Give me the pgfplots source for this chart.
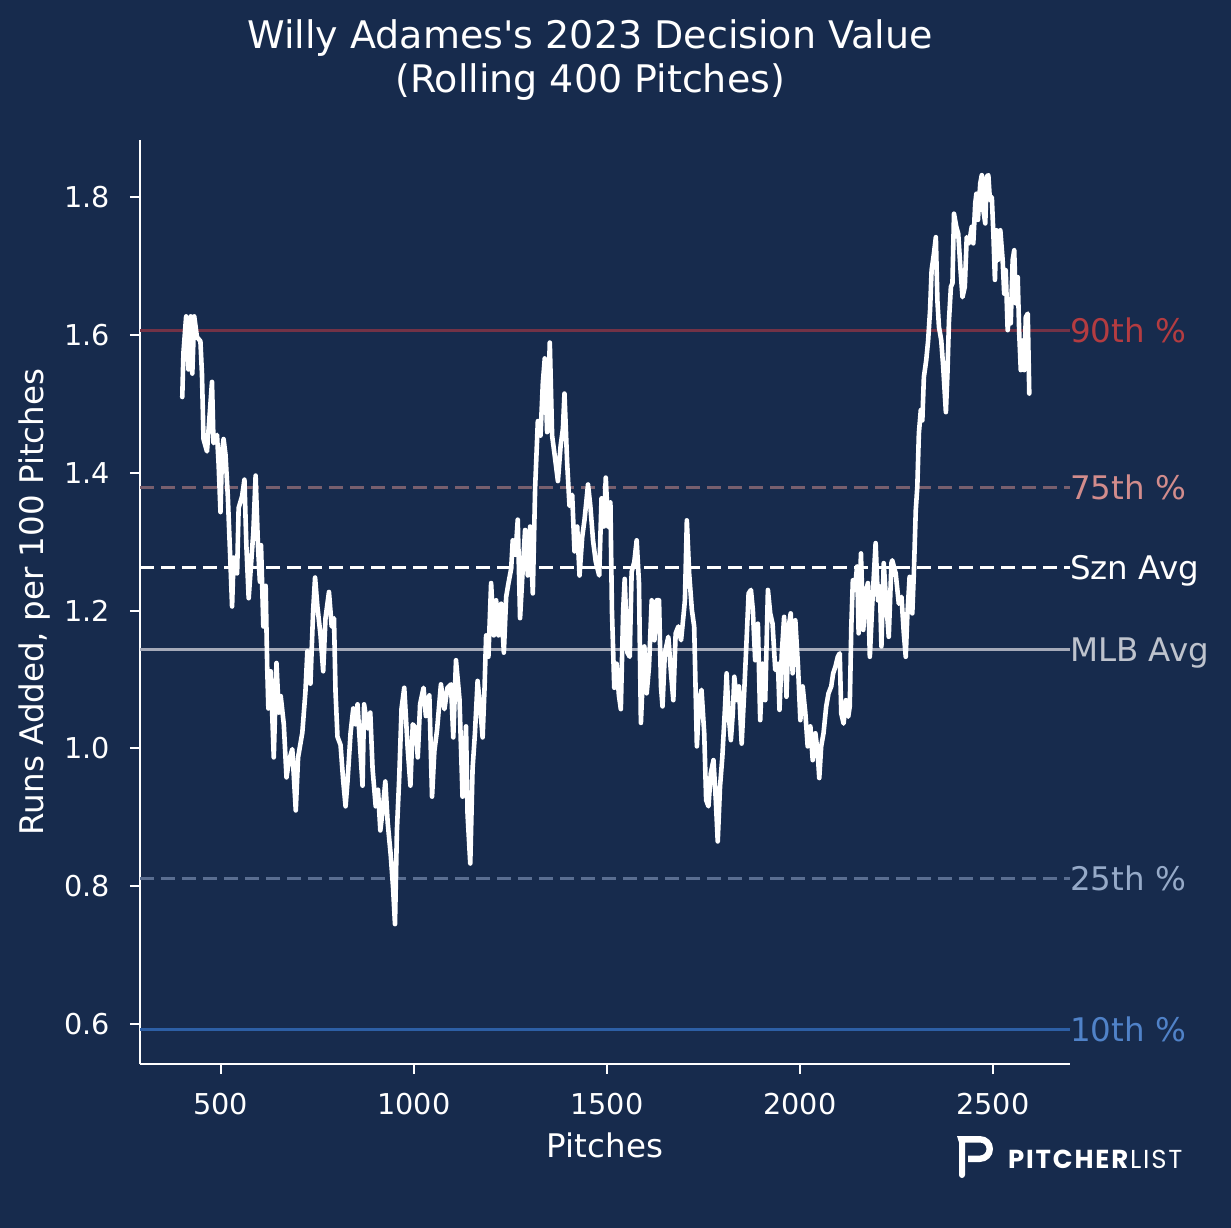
\documentclass[border=0pt]{standalone}
\usepackage{fontspec}
\setmainfont{DejaVu Sans}
\newfontfamily\titlefont{DejaVu Sans}
\newfontfamily\logofont[LetterSpace=7]{Poppins}
\usepackage{pgfplots}
\pgfplotsset{compat=1.18}
\definecolor{bg}{RGB}{23,43,77}
\definecolor{p90}{RGB}{115,50,70}
\definecolor{p90t}{RGB}{180,60,65}
\definecolor{p75}{RGB}{120,95,110}
\definecolor{p75t}{RGB}{210,140,140}
\definecolor{mlb}{RGB}{165,170,185}
\definecolor{mlbt}{RGB}{190,195,205}
\definecolor{p25}{RGB}{90,110,145}
\definecolor{p25t}{RGB}{150,170,200}
\definecolor{p10}{RGB}{45,95,165}
\definecolor{p10t}{RGB}{80,130,200}
\begin{document}
\begin{tikzpicture}
\fill[bg] (-140bp,-164bp) rectangle (1091bp,1064bp);
\useasboundingbox (-140bp,-164bp) rectangle (1091bp,1064bp);
\begin{axis}[
  at={(0,0)}, anchor=south west,
  scale only axis, width=930bp, height=924bp,
  xmin=290.5, xmax=2699.5, ymin=0.542, ymax=1.883,
  axis x line*=bottom, axis y line*=left,
  axis line style={white, line width=2bp, -},
  tick align=outside, major tick length=10bp,
  tick style={white, line width=2bp},
  xtick={500,1000,1500,2000,2500},
  ytick={0.6,0.8,1.0,1.2,1.4,1.6,1.8},
  /pgf/number format/assume math mode=true,
  xticklabel style={text=white, font=\fontsize{28.7bp}{34bp}\selectfont, anchor=north, inner sep=0pt, yshift=-19bp},
  yticklabel style={text=white, font=\fontsize{28.7bp}{34bp}\selectfont, anchor=east, inner sep=0pt, xshift=-20bp,
     /pgf/number format/fixed, /pgf/number format/fixed zerofill, /pgf/number format/precision=1},
  scaled x ticks=false,
  x tick label style={/pgf/number format/1000 sep={}},
  xlabel={Pitches},
  ylabel={Runs Added, per 100 Pitches},
  xlabel style={at={(axis description cs:0.5,0)}, anchor=center, yshift=-81bp, text=white, font=\fontsize{32.5bp}{39bp}\selectfont},
  ylabel style={at={(axis description cs:0,0.5)}, anchor=center, yshift=105bp, text=white, font=\fontsize{32.5bp}{39bp}\selectfont},
  title={Willy Adames's 2023 Decision Value\\(Rolling 400 Pitches)},
  title style={at={(axis description cs:0.484,1)}, anchor=center, yshift=74bp, align=center, text=white, font=\titlefont\fontsize{38bp}{44bp}\selectfont},
  clip=false,
]
\addplot[p90, line width=3bp, forget plot] coordinates {(290.5,1.606) (2699.5,1.606)};
\addplot[p75, line width=3bp, dash pattern=on 14bp off 7bp, forget plot] coordinates {(290.5,1.378) (2699.5,1.378)};
\addplot[white, line width=3bp, dash pattern=on 14bp off 7bp, forget plot] coordinates {(290.5,1.262) (2699.5,1.262)};
\addplot[mlb, line width=3bp, forget plot] coordinates {(290.5,1.143) (2699.5,1.143)};
\addplot[p25, line width=3bp, dash pattern=on 14bp off 7bp, forget plot] coordinates {(290.5,0.811) (2699.5,0.811)};
\addplot[p10, line width=3bp, forget plot] coordinates {(290.5,0.592) (2699.5,0.592)};
\addplot[white, line width=4.6bp, line join=round, line cap=round] coordinates {
(400,1.510) (403,1.574) (410,1.627) (416,1.550) (422,1.627) (426,1.544) (431,1.627) (438,1.597) (447,1.591) (451,1.544) (455,1.449) (464,1.431) (471,1.485) (477,1.532) (481,1.443) (490,1.455) (494,1.414) (499,1.343) (503,1.431) (507,1.449) (512,1.426) (518,1.366) (525,1.266) (529,1.206) (533,1.277) (542,1.254) (546,1.349) (555,1.366) (561,1.390) (566,1.295) (572,1.218) (578,1.266) (584,1.313) (590,1.396) (596,1.295) (601,1.242) (604,1.295) (610,1.177) (616,1.236) (620,1.118) (623,1.058) (629,1.112) (637,0.987) (644,1.124) (650,1.052) (655,1.076) (663,1.035) (670,0.958) (676,0.981) (685,0.999) (694,0.910) (700,0.987) (711,1.023) (719,1.082) (724,1.141) (732,1.094) (739,1.200) (744,1.248) (750,1.206) (758,1.165) (765,1.112) (771,1.189) (780,1.227) (787,1.177) (793,1.189) (797,1.082) (802,1.017) (810,1.005) (817,0.952) (823,0.916) (828,0.952) (836,1.023) (843,1.058) (849,1.035) (854,1.064) (861,0.999) (867,0.946) (871,1.064) (880,1.029) (887,1.052) (893,0.970) (901,0.916) (907,0.940) (913,0.881) (919,0.910) (926,0.952) (932,0.893) (940,0.845) (946,0.798) (951,0.745) (956,0.881) (962,0.958) (968,1.058) (975,1.088) (984,0.999) (991,0.946) (997,1.035) (1005,1.029) (1010,0.987) (1016,1.064)
(1025,1.088) (1031,1.047) (1040,1.077) (1047,0.930) (1053,0.996) (1060,1.027) (1070,1.093) (1079,1.057) (1087,1.088) (1096,1.093) (1102,1.016) (1109,1.128) (1118,1.072) (1126,0.930) (1135,1.032) (1139,0.904) (1146,0.833) (1152,0.971) (1158,1.021) (1165,1.098) (1172,1.057) (1178,1.016) (1183,1.088) (1187,1.164) (1193,1.133) (1200,1.240) (1207,1.164) (1213,1.215) (1219,1.164) (1226,1.210) (1233,1.139) (1239,1.220) (1245,1.240) (1252,1.261) (1256,1.302) (1263,1.281) (1269,1.332) (1275,1.189) (1282,1.261) (1288,1.317) (1295,1.251) (1301,1.322) (1308,1.225) (1314,1.378) (1321,1.475) (1328,1.454) (1334,1.531) (1339,1.566) (1345,1.459) (1352,1.589) (1358,1.454) (1365,1.424) (1373,1.388) (1380,1.439) (1386,1.464) (1390,1.515) (1397,1.414) (1403,1.352) (1410,1.368) (1416,1.286) (1423,1.322) (1429,1.251) (1436,1.307) (1442,1.332) (1451,1.383) (1457,1.352) (1464,1.302) (1471,1.271) (1480,1.251) (1486,1.363) (1492,1.322) (1497,1.393) (1503,1.322) (1509,1.357) (1513,1.200) (1519,1.088) (1525,1.123) (1531,1.077) (1536,1.057) (1542,1.200) (1546,1.246) (1553,1.139) (1559,1.133) (1564,1.256) (1571,1.271) (1577,1.302) (1583,1.240) (1588,1.037) (1594,1.118)
(1597,1.148) (1603,1.080) (1609,1.119) (1616,1.215) (1623,1.157) (1629,1.215) (1635,1.215) (1640,1.090) (1644,1.061) (1650,1.138) (1659,1.162) (1666,1.109) (1672,1.070) (1678,1.167) (1685,1.177) (1692,1.157) (1698,1.191) (1702,1.215) (1707,1.331) (1713,1.254) (1720,1.201) (1726,1.177) (1733,1.003) (1739,1.070) (1745,1.085) (1752,1.022) (1757,0.925) (1763,0.916) (1769,0.964) (1776,0.983) (1782,0.925) (1787,0.865) (1793,0.945) (1799,0.988) (1806,1.061) (1810,1.109) (1815,1.051) (1821,1.012) (1826,1.051) (1830,1.104) (1836,1.070) (1842,1.090) (1849,1.007) (1855,1.075) (1861,1.148) (1867,1.225) (1873,1.230) (1878,1.201) (1884,1.128) (1891,1.181) (1897,1.041) (1903,1.123) (1910,1.070) (1917,1.230) (1923,1.196) (1929,1.181) (1936,1.114) (1943,1.123) (1947,1.056) (1953,1.138) (1959,1.191) (1965,1.075) (1971,1.177) (1976,1.196) (1981,1.109) (1988,1.186) (1995,1.119) (2001,1.041) (2007,1.090) (2014,1.051) (2020,1.003) (2027,1.032) (2033,0.983) (2040,1.022) (2046,0.993) (2050,0.957) (2055,1.003) (2061,1.022) (2068,1.061) (2074,1.080) (2081,1.090) (2086,1.109) (2092,1.119) (2098,1.133) (2103,1.138) (2107,1.051) (2113,1.036) (2119,1.070) (2125,1.046) (2129,1.061) (2133,1.177) (2137,1.244) (2142,1.230) (2148,1.264) (2152,1.167) (2158,1.283) (2164,1.172) (2170,1.225) (2176,1.240) (2181,1.133) (2187,1.206) (2196,1.298) (2202,1.215) (2207,1.235) (2211,1.148) (2217,1.269) (2223,1.215) (2230,1.162) (2237,1.269)
(2239,1.273) (2248,1.254) (2256,1.210) (2263,1.220) (2269,1.167) (2274,1.133) (2278,1.191) (2284,1.249) (2291,1.196) (2295,1.254) (2300,1.346) (2304,1.380) (2308,1.457) (2313,1.491) (2317,1.476) (2321,1.539) (2327,1.563) (2332,1.592) (2337,1.636) (2341,1.694) (2347,1.718) (2352,1.742) (2356,1.650) (2360,1.612) (2366,1.592) (2371,1.554) (2378,1.488) (2382,1.544) (2386,1.621) (2391,1.670) (2395,1.675) (2399,1.776) (2405,1.757) (2410,1.747) (2416,1.694) (2421,1.655) (2427,1.670) (2432,1.742) (2438,1.733) (2445,1.757) (2449,1.733) (2454,1.791) (2457,1.805) (2461,1.767) (2467,1.820) (2471,1.832) (2475,1.781) (2480,1.762) (2484,1.830) (2488,1.832) (2492,1.796) (2497,1.800) (2501,1.747) (2505,1.680) (2509,1.752) (2513,1.709) (2519,1.752) (2525,1.709) (2529,1.660) (2533,1.694) (2538,1.607) (2542,1.631) (2546,1.617) (2551,1.709) (2555,1.723) (2559,1.646) (2564,1.684) (2568,1.602) (2572,1.549) (2577,1.592) (2581,1.549) (2585,1.626) (2590,1.631) (2594,1.515)
};
\node[anchor=base west, inner sep=0pt, yshift=-11.8bp, text=p90t, font=\fontsize{32.5bp}{39bp}\selectfont] at (axis cs:2699.5,1.606) {90th \%};
\node[anchor=base west, inner sep=0pt, yshift=-11.8bp, text=p75t, font=\fontsize{32.5bp}{39bp}\selectfont] at (axis cs:2699.5,1.378) {75th \%};
\node[anchor=base west, inner sep=0pt, yshift=-11.8bp, text=white, font=\fontsize{32.5bp}{39bp}\selectfont] at (axis cs:2699.5,1.262) {Szn Avg};
\node[anchor=base west, inner sep=0pt, yshift=-11.8bp, text=mlbt, font=\fontsize{32.5bp}{39bp}\selectfont] at (axis cs:2699.5,1.143) {MLB Avg};
\node[anchor=base west, inner sep=0pt, yshift=-11.8bp, text=p25t, font=\fontsize{32.5bp}{39bp}\selectfont] at (axis cs:2699.5,0.811) {25th \%};
\node[anchor=base west, inner sep=0pt, yshift=-11.8bp, text=p10t, font=\fontsize{32.5bp}{39bp}\selectfont] at (axis cs:2699.5,0.592) {10th \%};
\end{axis}
% logo
\fill[white] (817bp,-72bp) -- (840bp,-72bp) arc[start angle=90, end angle=-90, radius=13bp] -- (828bp,-98bp) -- (828bp,-91.5bp) -- (840bp,-91.5bp) arc[start angle=-90, end angle=90, radius=6.5bp] -- (825bp,-78.5bp) -- (825bp,-111bp) arc[start angle=0, end angle=-180, radius=3bp] -- (819bp,-78.5bp) -- cycle;
\node[anchor=west, inner sep=0pt, text=white, font=\logofont\fontsize{26bp}{30bp}\selectfont] at (868bp,-95bp) {\textbf{PITCHER}LIST};
\end{tikzpicture}
\end{document}
